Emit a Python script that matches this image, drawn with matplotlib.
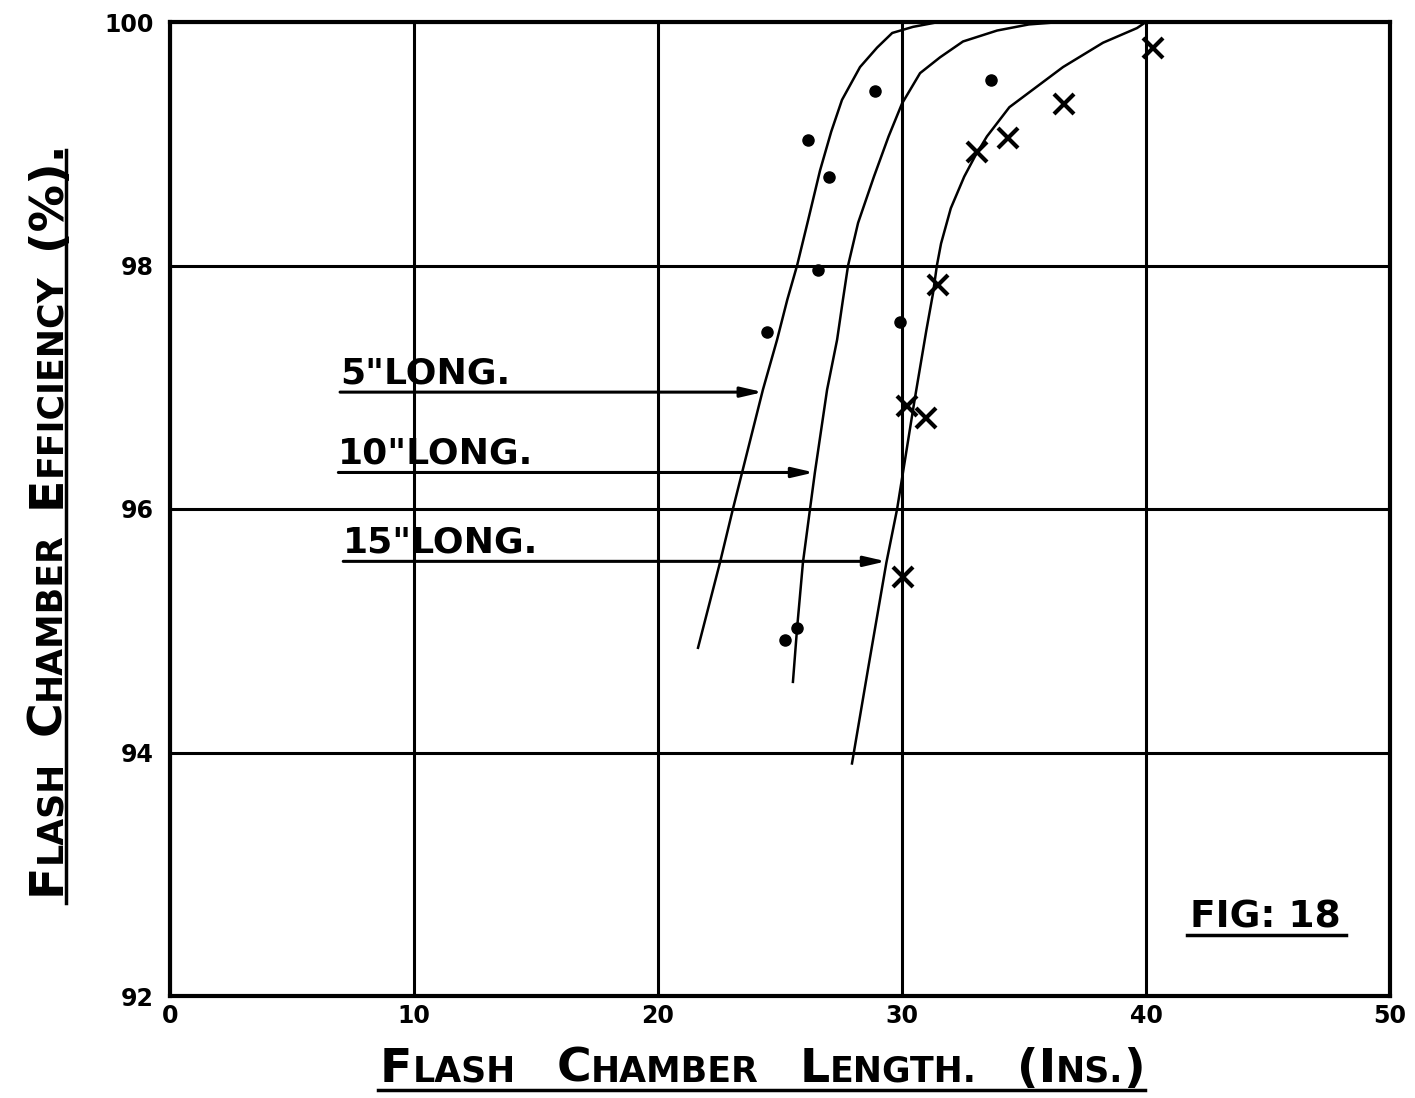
import numpy as np
import matplotlib.pyplot as plt
from matplotlib.lines import Line2D
from matplotlib.transforms import IdentityTransform

# curves (length in ins, efficiency in %)
x_5in = [21.64, 22.54, 23.07, 24.3, 24.88, 25.3, 25.7, 26.15, 26.64, 27.1, 27.54, 28.28, 28.98, 29.6, 30.45, 31.5]
y_5in = [94.86, 95.56, 96.0, 96.98, 97.39, 97.72, 98.0, 98.37, 98.78, 99.1, 99.36, 99.63, 99.79, 99.91, 99.96, 100.0]

x_10in = [25.53, 25.7, 25.94, 26.23, 26.43, 26.93, 27.34, 27.58, 27.79, 28.2, 28.85, 29.45, 30.0,
          30.74, 31.56, 32.5, 33.9, 35.2, 36.5]
y_10in = [94.58, 95.02, 95.56, 96.0, 96.3, 96.98, 97.39, 97.72, 98.0, 98.35, 98.73, 99.06, 99.33,
          99.58, 99.71, 99.84, 99.93, 99.98, 100.0]

x_15in = [27.95, 28.62, 29.36, 29.8, 30.52, 31.0, 31.27, 31.43, 31.6, 32.0, 32.55, 33.0, 33.48,
          34.4, 36.6, 38.24, 39.63, 40.0]
y_15in = [93.91, 94.70, 95.56, 96.0, 96.9, 97.47, 97.77, 98.0, 98.18, 98.47, 98.73, 98.9, 99.06,
          99.3, 99.63, 99.83, 99.95, 100.0]

# measured points
dots_x = [24.47, 26.15, 27.0, 26.56, 28.9, 29.9, 33.65, 25.2, 25.7]
dots_y = [97.45, 99.03, 98.73, 97.96, 99.43, 97.54, 99.52, 94.92, 95.02]
cross_x = [40.3, 36.64, 34.34, 33.07, 31.48, 30.2, 31.0, 30.05]
cross_y = [99.79, 99.33, 99.05, 98.93, 97.84, 96.85, 96.75, 95.44]

# arrow labels: (text, start x, tip x, y)
labels = ['5"LONG.', '10"LONG.', '15"LONG.']
arrow_x0 = [6.97, 6.9, 7.1]
arrow_x1 = [24.3, 26.4, 29.35]
arrow_y = [96.96, 96.30, 95.57]

xticks = [0, 10, 20, 30, 40, 50]
yticks = [92, 94, 96, 98, 100]

W, H = 1415, 1098
BIG, SMALL = 34, 25

fig = plt.figure(figsize=(W / 100, H / 100), dpi=100)
ax = fig.add_axes([170 / W, 1 - 996 / H, 1220 / W, 974 / H])

ax.plot(x_5in, y_5in, color='black', lw=1.8)
ax.plot(x_10in, y_10in, color='black', lw=1.8)
ax.plot(x_15in, y_15in, color='black', lw=1.8)

ax.plot(dots_x, dots_y, 'o', color='black', ms=8, ls='none')
ax.plot(cross_x, cross_y, 'x', color='black', ms=15, mew=3, ls='none')

for txt, x0, x1, y in zip(labels, arrow_x0, arrow_x1, arrow_y):
    ax.annotate('', xy=(x1, y), xytext=(x0, y),
                arrowprops=dict(arrowstyle='-|>,head_length=1.3,head_width=0.3',
                                color='black', lw=2.2, shrinkA=0, shrinkB=0))
    ax.text(x0, y + 0.07, txt, fontsize=26, fontweight='bold', ha='left', va='baseline')

ax.set_xlim(0, 50)
ax.set_ylim(92, 100)
ax.set_xticks(xticks)
ax.set_yticks(yticks)
ax.set_xticklabels([str(v) for v in xticks], fontsize=17, fontweight='bold')
ax.set_yticklabels([str(v) for v in yticks], fontsize=17, fontweight='bold')
ax.tick_params(axis='y', length=0, pad=12)
ax.tick_params(axis='x', length=0, pad=6)
ax.grid(True, color='black', lw=2.2)
for s in ax.spines.values():
    s.set_linewidth(3)

# hand-lettered small caps labels, placed in pixels
renderer = fig.canvas.get_renderer()


def caps_label(words, x0, y0, length, vertical=False):
    arts = []
    natural = 0
    for word in words:
        parts = []
        for s, size in word:
            t = fig.text(0, 0, s, fontsize=size, fontweight='bold', transform=IdentityTransform(),
                         ha='left', va='baseline', rotation=90 if vertical else 0,
                         rotation_mode='anchor')
            bb = t.get_window_extent(renderer)
            w = bb.height if vertical else bb.width
            parts.append((t, w))
            natural += w
        arts.append(parts)
    gap = (length - natural) / (len(words) - 1)
    pos = 0
    for parts in arts:
        for t, w in parts:
            if vertical:
                t.set_position((x0, H - y0 + pos))
            else:
                t.set_position((x0 + pos, H - y0))
            pos += w
        pos += gap


xlabel_words = [[('F', BIG), ('LASH', SMALL)], [('C', BIG), ('HAMBER', SMALL)],
                [('L', BIG), ('ENGTH.', SMALL)], [('(I', BIG), ('NS.', SMALL), (')', BIG)]]
caps_label(xlabel_words, 380, 1082, 765)
fig.add_artist(Line2D([378 / W, 1145 / W], [1 - 1090 / H] * 2, color='black', lw=2.5))

ylabel_words = [[('F', BIG), ('LASH', SMALL)], [('C', BIG), ('HAMBER', SMALL)],
                [('E', BIG), ('FFICIENCY', SMALL)], [('(%).', BIG)]]
caps_label(ylabel_words, 60, 895, 755, vertical=True)
fig.add_artist(Line2D([66 / W] * 2, [1 - 903 / H, 1 - 150 / H], color='black', lw=2.5))

ax.text(44.9, 92.56, 'FIG: 18', fontsize=27, fontweight='bold', ha='center', va='baseline')
ax.plot([41.7, 48.2], [92.5, 92.5], color='black', lw=2.5)

fig.savefig('out.png', dpi=100)
